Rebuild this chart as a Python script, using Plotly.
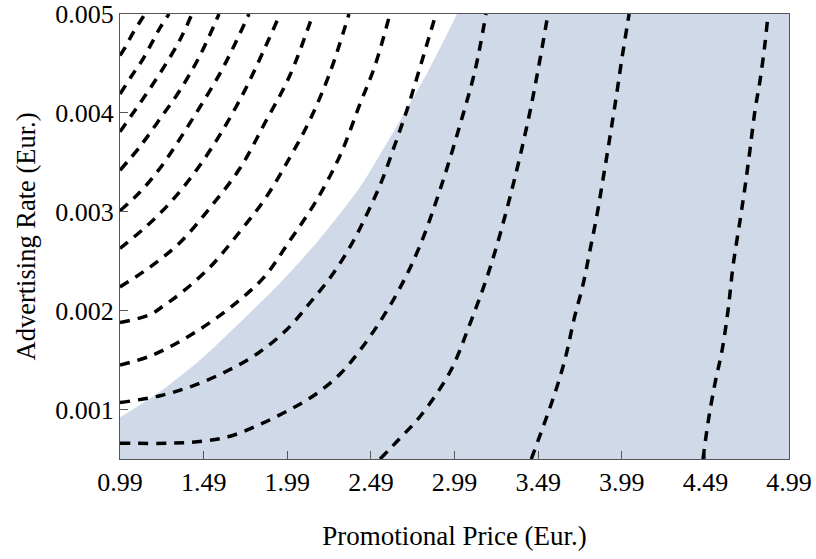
import plotly.graph_objects as go

# Axis ticks
x_ticks = [0.99, 1.49, 1.99, 2.49, 2.99, 3.49, 3.99, 4.49, 4.99]
x_tick_labels = ["0.99", "1.49", "1.99", "2.49", "2.99", "3.49", "3.99", "4.49", "4.99"]
y_ticks = [0.001, 0.002, 0.003, 0.004, 0.005]
y_tick_labels = ["0.001", "0.002", "0.003", "0.004", "0.005"]
x_range = [0.99, 4.99]
y_range = [0.0005, 0.005]

# Boundary of the shaded (feasible) region
boundary_x = [0.99, 1.229, 1.468, 1.707, 1.947, 2.186, 2.425, 2.545, 2.664, 2.844, 3.005]
boundary_y = [0.00092, 0.00118, 0.00150, 0.00188, 0.00228, 0.00273, 0.00325, 0.00358, 0.00392, 0.00446, 0.00500]

# Dashed contour lines (x, y)
c1_x = [0.99, 1.02, 1.068, 1.128, 1.14]
c1_y = [0.00458, 0.00466, 0.00481, 0.00497, 0.00500]
c2_x = [0.99, 1.062, 1.122, 1.181, 1.229, 1.283]
c2_y = [0.00419, 0.00438, 0.00453, 0.00471, 0.00486, 0.00500]
c3_x = [0.99, 1.110, 1.229, 1.349, 1.420]
c3_y = [0.00381, 0.00410, 0.00440, 0.00474, 0.00500]
c4_x = [0.99, 1.110, 1.229, 1.349, 1.468, 1.582]
c4_y = [0.00342, 0.00366, 0.00394, 0.00423, 0.00458, 0.00500]
c5_x = [0.99, 1.110, 1.229, 1.349, 1.468, 1.588, 1.678, 1.761]
c5_y = [0.00301, 0.00320, 0.00344, 0.00374, 0.00406, 0.00440, 0.00470, 0.00500]
c6_x = [0.99, 1.139, 1.289, 1.438, 1.588, 1.737, 1.857, 1.947]
c6_y = [0.00263, 0.00284, 0.00309, 0.00340, 0.00378, 0.00423, 0.00466, 0.00500]
c7_x = [0.99, 1.169, 1.349, 1.528, 1.707, 1.857, 2.006, 2.144]
c7_y = [0.00224, 0.00244, 0.00269, 0.00304, 0.00344, 0.00390, 0.00438, 0.00500]
c8_x = [0.99, 1.169, 1.259, 1.349, 1.528, 1.707, 1.857, 2.006, 2.126, 2.246, 2.359]
c8_y = [0.00188, 0.00196, 0.00206, 0.00217, 0.00244, 0.00280, 0.00313, 0.00355, 0.00393, 0.00441, 0.00500]
c9_x = [0.99, 1.169, 1.349, 1.528, 1.707, 1.857, 2.006, 2.156, 2.306, 2.425, 2.515, 2.604]
c9_y = [0.00145, 0.00154, 0.00169, 0.00188, 0.00211, 0.00235, 0.00271, 0.00309, 0.00357, 0.00409, 0.00448, 0.00500]
c10_x = [0.99, 1.229, 1.426, 1.630, 1.815, 1.988, 2.126, 2.258, 2.377, 2.473, 2.557, 2.634, 2.706, 2.766, 2.826, 2.879]
c10_y = [0.00107, 0.00114, 0.00124, 0.00139, 0.00157, 0.00181, 0.00208, 0.00236, 0.00268, 0.00300, 0.00332, 0.00368, 0.00403, 0.00436, 0.00470, 0.00500]
c11_x = [0.99, 1.289, 1.486, 1.648, 1.827, 2.006, 2.156, 2.306, 2.425, 2.545, 2.664, 2.784, 2.903, 3.023, 3.113, 3.178]
c11_y = [0.00066, 0.00066, 0.00068, 0.00073, 0.00085, 0.00100, 0.00115, 0.00136, 0.00160, 0.00189, 0.00223, 0.00266, 0.00322, 0.00388, 0.00443, 0.00500]
c12_x = [2.545, 2.664, 2.784, 2.963, 3.083, 3.202, 3.322, 3.441, 3.549]
c12_y = [0.00050, 0.00071, 0.00093, 0.00138, 0.00187, 0.00243, 0.00315, 0.00401, 0.00500]
c13_x = [3.449, 3.525, 3.597, 3.657, 3.704, 3.758, 3.800, 3.842, 3.878, 3.914, 3.956, 3.992, 4.034]
c13_y = [0.00050, 0.00085, 0.00120, 0.00155, 0.00191, 0.00226, 0.00261, 0.00297, 0.00333, 0.00370, 0.00415, 0.00456, 0.00500]
c14_x = [4.476, 4.506, 4.548, 4.590, 4.626, 4.656, 4.698, 4.727, 4.757, 4.787, 4.817, 4.847, 4.865]
c14_y = [0.00050, 0.00087, 0.00127, 0.00160, 0.00201, 0.00246, 0.00292, 0.00325, 0.00363, 0.00403, 0.00433, 0.00471, 0.00500]

contours = [(c1_x, c1_y), (c2_x, c2_y), (c3_x, c3_y), (c4_x, c4_y), (c5_x, c5_y),
            (c6_x, c6_y), (c7_x, c7_y), (c8_x, c8_y), (c9_x, c9_y), (c10_x, c10_y),
            (c11_x, c11_y), (c12_x, c12_y), (c13_x, c13_y), (c14_x, c14_y)]

fig = go.Figure()

# shaded region: boundary curve, closed far outside the visible axes
shade_x = [0.90] + boundary_x + [3.06, 3.3, 6.0, 6.0, 0.90]
shade_y = [0.00082] + boundary_y + [0.0052, 0.0070, 0.0070, 0.0, 0.0]
fig.add_trace(go.Scatter(x=shade_x, y=shade_y, mode="lines", fill="toself",
                         fillcolor="#cfd9e8",
                         line=dict(width=0, color="#cfd9e8", shape="spline", smoothing=0.8),
                         hoverinfo="skip", showlegend=False))

for cx, cy in contours:
    fig.add_trace(go.Scatter(x=cx, y=cy, mode="lines",
                             line=dict(color="black", width=3.5, dash="10px,8px",
                                       shape="spline", smoothing=1.0),
                             hoverinfo="skip", showlegend=False))

font_family = "Liberation Serif"
fig.update_layout(
    width=816, height=559,
    margin=dict(l=120, r=27, t=14, b=100, autoexpand=False),
    paper_bgcolor="white", plot_bgcolor="white",
    font=dict(family=font_family, size=26, color="black"),
    showlegend=False,
)
fig.update_xaxes(range=x_range, tickvals=x_ticks, ticktext=x_tick_labels,
                 ticks="inside", ticklen=8, tickcolor="#555", tickwidth=1,
                 showline=True, linecolor="#555", linewidth=1, mirror=True,
                 showgrid=False, zeroline=False, automargin=False,
                 tickfont=dict(family=font_family, size=26),
                 title=dict(text="Promotional Price (Eur.)", standoff=29,
                            font=dict(family=font_family, size=27)))
fig.update_yaxes(range=y_range, tickvals=y_ticks, ticktext=y_tick_labels,
                 ticks="inside", ticklen=8, tickcolor="#555", tickwidth=1,
                 showline=True, linecolor="#555", linewidth=1, mirror=True,
                 showgrid=False, zeroline=False, automargin=False,
                 tickfont=dict(family=font_family, size=26),
                 title=dict(text="Advertising Rate (Eur.)", standoff=12,
                            font=dict(family=font_family, size=26.5)))

fig.write_html("out.html", config={"displayModeBar": False},
               post_script="document.body.style.margin='0px';document.body.style.overflow='hidden';")
